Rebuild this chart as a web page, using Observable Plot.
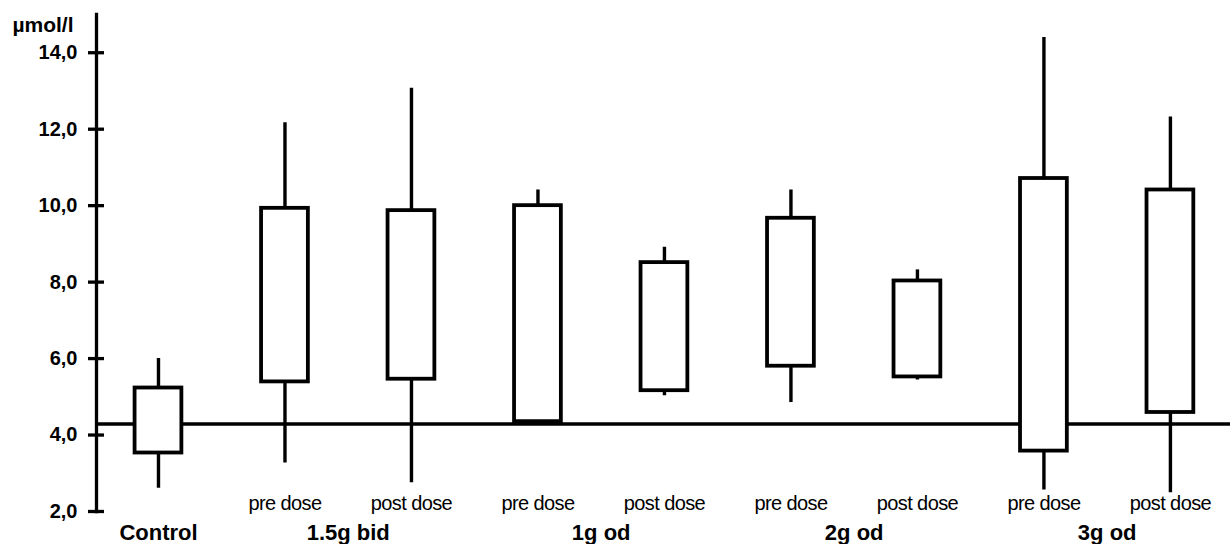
<!DOCTYPE html>
<html>
<head>
<meta charset="utf-8">
<script src="https://cdn.jsdelivr.net/npm/d3@7"></script>
<script src="https://cdn.jsdelivr.net/npm/@observablehq/plot@0.6"></script>
<style>
  html, body { margin: 0; padding: 0; background: #fff; }
</style>
</head>
<body>
<div id="chart"></div>
<script>
// ---- data ----
const groups    = ["Control", "1.5g bid", "1.5g bid", "1g od", "1g od", "2g od", "2g od", "3g od", "3g od"];
const subLabels = ["", "pre dose", "post dose", "pre dose", "post dose", "pre dose", "post dose", "pre dose", "post dose"];
const whiskerLow  = [2.61, 3.27, 2.75, 4.35, 5.03, 4.85, 5.44, 2.56, 2.49];
const boxLow      = [3.53, 5.39, 5.46, 4.35, 5.16, 5.80, 5.52, 3.58, 4.59];
const boxHigh     = [5.23, 9.93, 9.87, 10.00, 8.51, 9.67, 8.03, 10.71, 10.41];
const whiskerHigh = [6.00, 12.17, 13.07, 10.41, 8.91, 10.41, 8.32, 14.40, 12.32];
const referenceLevel = [4.29];
const yTicks = [2, 4, 6, 8, 10, 12, 14];
const unitLabel = "µmol/l";

// ---- build table ----
const data = groups.map((g, i) => ({
  i, group: g, sub: subLabels[i],
  low: whiskerLow[i], q1: boxLow[i], q3: boxHigh[i], high: whiskerHigh[i]
}));
const groupCenters = d3.rollups(data, v => d3.mean(v, d => d.i), d => d.group)
  .map(([name, i]) => ({name, i}));

const fmt = v => d3.format(".1f")(v).replace(".", ",");
const halfWidth = 0.185;

const chart = Plot.plot({
  width: 1230,
  height: 544,
  marginLeft: 96,
  marginRight: 0,
  marginTop: 14,
  marginBottom: 33,
  style: {fontFamily: "'Liberation Sans', Arial, sans-serif", fontSize: "20px", fontWeight: "bold", color: "black", background: "white"},
  x: {domain: [-0.49, 8.475], axis: null},
  y: {domain: [2, 15], axis: null},
  marks: [
    Plot.ruleY(referenceLevel, {stroke: "black", strokeWidth: 3.5}),
    Plot.frame({anchor: "left", stroke: "black", strokeWidth: 3.3}),
    Plot.axisY(yTicks, {tickSize: 8, tickPadding: 11, tickFormat: fmt, strokeWidth: 3.3, label: null, fontSize: 20, fontWeight: "bold"}),
    Plot.axisY(yTicks, {tickSize: -8, fill: "none", strokeWidth: 3.3, label: null}),
    Plot.ruleX(data, {x: "i", y1: "low", y2: "high", stroke: "black", strokeWidth: 3.4}),
    Plot.rectY(data, {x1: d => d.i - halfWidth, x2: d => d.i + halfWidth, y1: "q1", y2: "q3",
      fill: "white", stroke: "black", strokeWidth: 3.8}),
    Plot.text(data.filter(d => d.sub), {x: "i", text: "sub", frameAnchor: "bottom", lineAnchor: "middle", dy: -8,
      fontSize: 20, fontWeight: "normal", fill: "black", className: "sublabel"}),
    Plot.text(groupCenters, {x: "i", text: "name", frameAnchor: "bottom", lineAnchor: "middle", dy: 21,
      fontSize: 22, fontWeight: "bold", fill: "black"}),
    Plot.text([unitLabel], {frameAnchor: "top-left", lineAnchor: "middle", textAnchor: "end", dx: -23, dy: 11,
      fontSize: 21, fontWeight: "bold", fill: "black"})
  ]
});
document.getElementById("chart").appendChild(chart);
d3.select(chart).selectAll(".sublabel text").style("letter-spacing", "-0.6px");
</script>
</body>
</html>
